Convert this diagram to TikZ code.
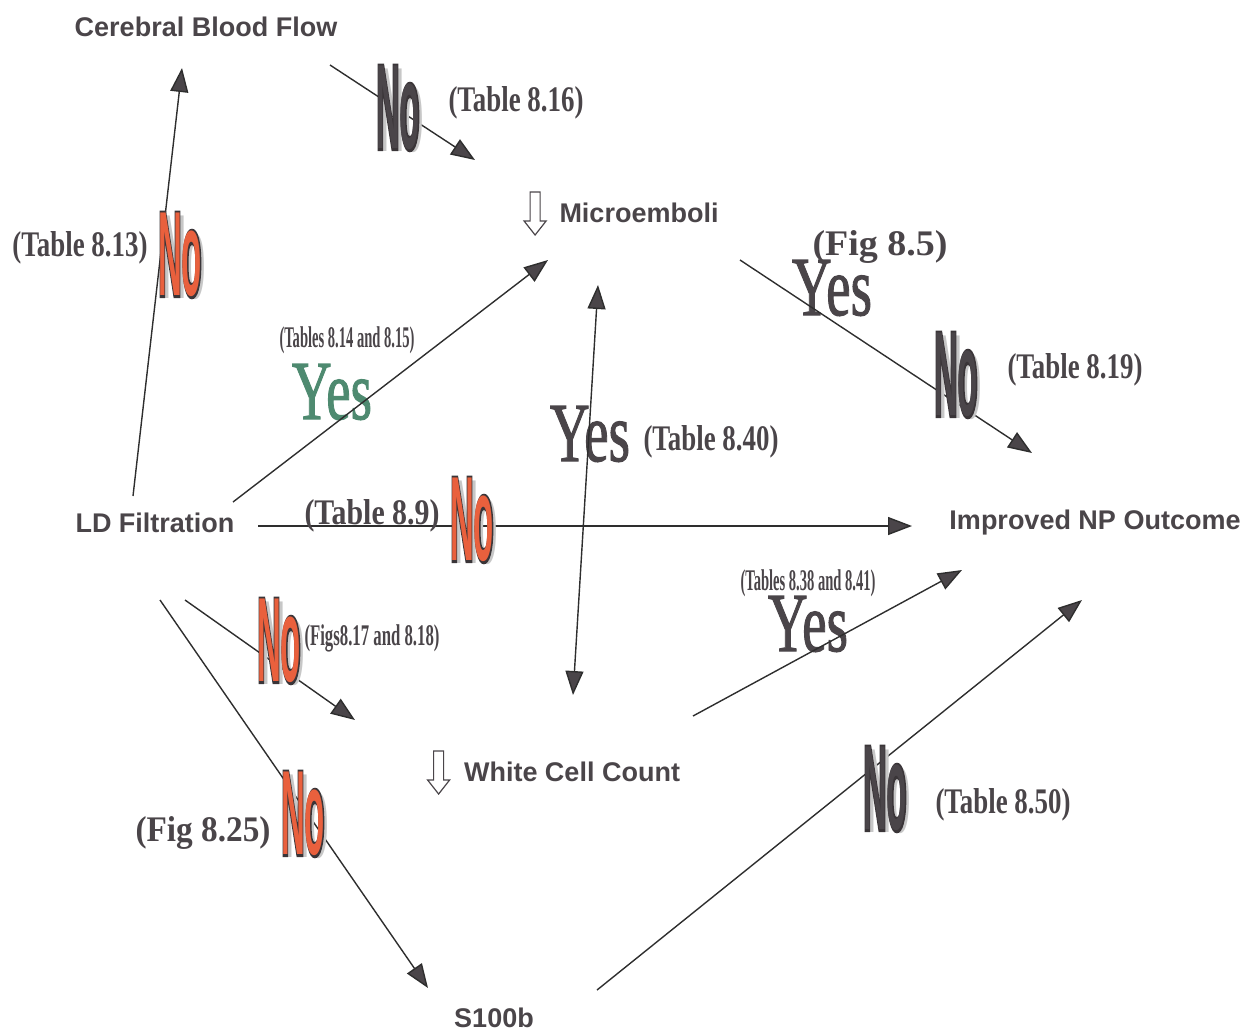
\documentclass[tikz,border=0pt]{standalone}
\usepackage{fontspec}
\setmainfont{Liberation Serif}
\setsansfont{Liberation Sans}
\newfontfamily\rimfont{Liberation Sans}[BoldFeatures={FakeBold=4}]
\newfontfamily\yesfont{Liberation Serif}[FakeBold=1.5]
\usetikzlibrary{calc,arrows.meta}
\definecolor{inkgray}{HTML}{4A4549}
\definecolor{linegray}{HTML}{2E2E2E}
\definecolor{rimgray}{HTML}{3A3538}
\definecolor{noorange}{HTML}{E9603D}
\definecolor{yesgreen}{HTML}{4E8A70}

\tikzset{
	term/.style = {inner sep = 0, text = inkgray, font = \sffamily\bfseries\fontsize{13.5}{16}\selectfont},
	conn/.style = {draw = linegray, line width = 0.7pt, ->},
	dconn/.style = {conn, <->},
	nobox/.style = {inner sep = 0, font = \fontsize{60}{60}\selectfont},
	yesbox/.style = {inner sep = 0, font = \yesfont\fontsize{42}{42}\selectfont},
	notebox/.style = {inner sep = 0, text = inkgray, font = \rmfamily\bfseries\fontsize{18}{20}\selectfont},
	smallnote/.style = {notebox, font = \rmfamily\bfseries\fontsize{15}{16}\selectfont},
	dropmark/.pic = {\draw[inkgray, line width = 0.6pt, fill = white] (-5,-21) -- (5,-21) -- (5,8) -- (11,8) -- (0,22) -- (-11,8) -- (-5,8) -- cycle;}
}

\newcommand{\nomark}[3]{
	\node[nobox, text = black!22] (#1-shade) at ($(#2)+(4,3)$) {\resizebox{22pt}{\height}{\sffamily\bfseries No}};
	\node[nobox, text = rimgray] (#1-rim) at (#2) {\resizebox{22pt}{\height}{\rimfont\bfseries No}};
	\node[nobox, text = #3] (#1) at (#2) {\resizebox{22pt}{\height}{\sffamily\bfseries No}};
}
\newcommand{\yesmark}[3]{
	\node[yesbox, text = #3] (#1) at (#2) {\resizebox{40pt}{\height}{Yes}};
}
\newcommand{\tabnote}[4]{
	\node[#1] (#2) at (#3) {\resizebox{67.5pt}{\height}{#4}};
}

\begin{document}
\begin{tikzpicture}[x = 0.5pt, y = -0.5pt, >={Triangle[length = 12pt, width = 9pt, fill = inkgray]}]
	\useasboundingbox (0,0) rectangle (1245,1034);

	\node[term] (cbf) at (206,27) {Cerebral Blood Flow};
	\node[term] (micro) at (639,213) {Microemboli};
	\node[term] (ld) at (155,523) {LD Filtration};
	\node[term] (outcome) at (1095,523) {Improved NP Outcome};
	\node[term] (wcc) at (572,772) {White Cell Count};
	\node[term] (s100) at (494,1018) {S100b};

	\pic at ($(micro.west)+(-24,0)$) {dropmark};
	\pic at ($(wcc.west)+(-25,0)$) {dropmark};

	\yesmark{yes-ld}{332,392}{yesgreen}
	\yesmark{yes-wcc}{590,434}{inkgray}
	\yesmark{yes-micro}{832,288}{inkgray}
	\yesmark{yes-out}{808,624}{inkgray}

	\draw[conn] ($(ld)+(-22,-27)$) -- ($(cbf)+(-24,41)$);
	\draw[conn] ($(cbf)+(124,38)$) -- ($(micro)+(-164,-53)$);
	\draw[conn] ($(ld)+(78,-21)$) -- ($(micro)+(-91,47)$);
	\draw[dconn] ($(micro)+(-41,72)$) -- ($(wcc)+(1,-77)$);
	\draw[conn] ($(micro)+(101,47)$) -- ($(outcome)+(-63,-70)$);
	\draw[conn] ($(ld)+(103,3)$) -- ($(outcome)+(-183,3)$);
	\draw[conn] ($(ld)+(30,77)$) -- ($(wcc)+(-217,-52)$);
	\draw[conn] ($(ld)+(5,77)$) -- ($(s100)+(-66,-30)$);
	\draw[conn] ($(wcc)+(121,-56)$) -- ($(outcome)+(-133,47)$);
	\draw[conn] ($(s100)+(103,-28)$) -- ($(outcome)+(-13,77)$);

	\tabnote{notebox}{t816}{516,103}{(Table 8.16)}
	\tabnote{notebox}{t813}{80,248}{(Table 8.13)}
	\tabnote{smallnote}{t814}{347,340}{(Tables 8.14 and 8.15)}
	\tabnote{notebox}{t840}{711,442}{(Table 8.40)}
	\tabnote{notebox}{f85}{880,247}{(Fig 8.5)}
	\tabnote{notebox}{t819}{1075,370}{(Table 8.19)}
	\tabnote{notebox}{t89}{372,516}{(Table 8.9)}
	\tabnote{smallnote}{f817}{372,638}{(Figs8.17 and 8.18)}
	\tabnote{smallnote}{t838}{808,583}{(Tables 8.38 and 8.41)}
	\tabnote{notebox}{t850}{1003,805}{(Table 8.50)}
	\tabnote{notebox}{f825}{203,833}{(Fig 8.25)}

	\nomark{no-cbf}{398,108}{inkgray}
	\nomark{no-ld}{180,255}{noorange}
	\nomark{no-out}{956,375}{inkgray}
	\nomark{no-direct}{472,520}{noorange}
	\nomark{no-wcc}{279,641}{noorange}
	\nomark{no-s100}{885,789}{inkgray}
	\nomark{no-s100b}{303,814}{noorange}
\end{tikzpicture}
\end{document}
